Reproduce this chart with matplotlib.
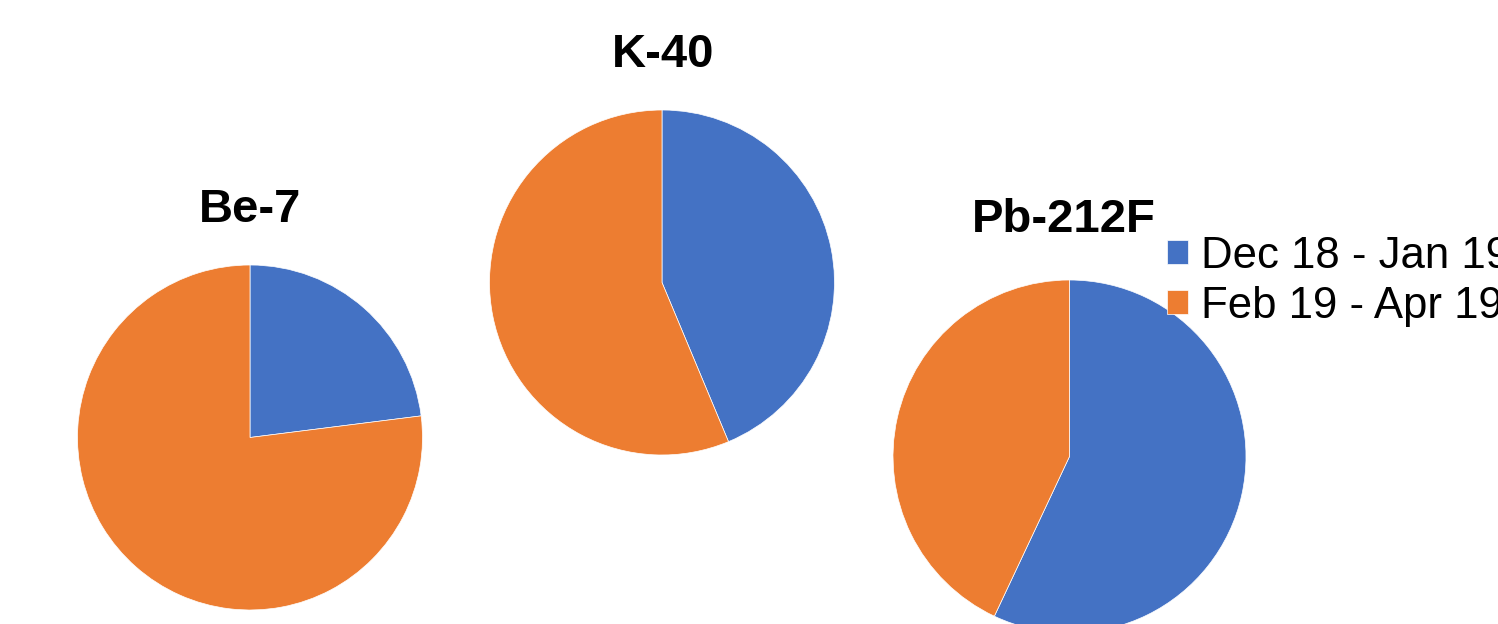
import matplotlib.pyplot as plt

plt.rcParams['font.family'] = ['Liberation Sans', 'DejaVu Sans']

# pie data (share of each period, %)
periods = ["Dec 18 - Jan 19", "Feb 19 - Apr 19"]
nuclides = ["Be-7", "K-40", "Pb-212F"]
be7 = [23.0, 77.0]
k40 = [43.7, 56.3]
pb212f = [57.0, 43.0]
colors = ["#4472C4", "#ED7D31"]

W, H = 1498, 624
fig = plt.figure(figsize=(W / 100, H / 100), dpi=100)

# pixel layout: centre x, centre y (from top), radius, title x, title baseline y
layout = [
    (250, 437.5, 172.5, 250, 222),
    (662, 282.5, 172.5, 663, 67),
    (1069.5, 456.5, 176.5, 1064, 232),
]

wedges = None
for name, vals, (cx, cy, r, tx, ty) in zip(nuclides, [be7, k40, pb212f], layout):
    ax = fig.add_axes([(cx - r) / W, (H - cy - r) / H, 2 * r / W, 2 * r / H])
    w, _ = ax.pie(vals, colors=colors, startangle=90, counterclock=False,
                  wedgeprops=dict(edgecolor='white', linewidth=0.5))
    ax.set_xlim(-1, 1)
    ax.set_ylim(-1, 1)
    ax.set_aspect('auto')
    ax.axis('off')
    if wedges is None:
        wedges = w
    fig.text(tx / W, (H - ty) / H, name, ha='center', va='baseline',
             fontsize=34, fontweight='bold')

fig.legend(wedges, periods, loc='upper left',
           bbox_to_anchor=(1167 / W, 1 - 236 / H),
           frameon=False, fontsize=31.5, handlelength=0.47, handleheight=0.47,
           handletextpad=0.3, labelspacing=0.2, borderpad=0, borderaxespad=0)

fig.savefig("out.png", dpi=100)
